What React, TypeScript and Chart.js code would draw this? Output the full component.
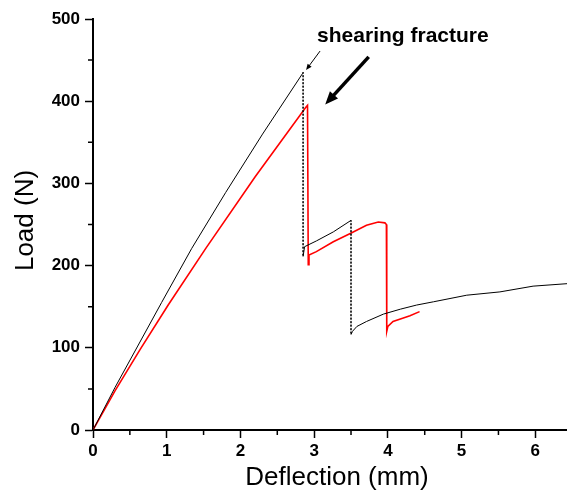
import React, { useEffect, useRef } from 'react';
import { Chart, registerables } from 'chart.js';
Chart.register(...registerables);

// Sample A (black, dotted drops)
const blackX = [0, 0.3, 0.6, 0.93, 1.34, 1.8, 2.3, 2.845, 2.85, 2.85, 2.87, 3.03, 3.26, 3.5, 3.5, 3.52, 3.58, 3.71, 3.94, 4.17, 4.39, 4.62, 5.07, 5.52, 5.97, 6.43];
const blackY = [0, 52, 101, 155, 221, 289, 360, 434, 435, 211, 223, 230, 241, 255, 116, 120, 126, 132, 141, 147, 152, 156, 164, 168, 175, 178];
// Sample B (red)
const redX = [0, 0.3, 0.64, 1.02, 1.53, 2.2, 2.89, 2.91, 2.92, 2.93, 3.03, 3.26, 3.49, 3.71, 3.87, 3.96, 3.98, 3.985, 4.0, 4.07, 4.2, 4.3, 4.43];
const redY = [0, 48, 98, 152, 221, 308, 393, 395, 201, 213, 217, 229, 239, 249, 253, 252, 250, 120, 126, 132, 136, 139, 144];

const xMin = 0;
const xMax = 6.43;
const yMin = 0;
const yMax = 500;
const xMinor = [0.5, 1.5, 2.5, 3.5, 4.5, 5.5];
const yMinor = [50, 150, 250, 350, 450];

const xTitle = 'Deflection (mm)';
const yTitle = 'Load (N)';
const noteText = 'shearing fracture';
const notePos = [3.04, 479];
const thinArrow = [[3.08, 461], [2.89, 438]];
const thickArrow = [[3.74, 454], [3.15, 396]];

const FONT = '"Liberation Sans", Arial, Helvetica, sans-serif';

function drawArrow(ctx: CanvasRenderingContext2D, x1: number, y1: number, x2: number, y2: number, lw: number, headLen: number, headW: number) {
  const dx = x2 - x1, dy = y2 - y1;
  const len = Math.hypot(dx, dy);
  const ux = dx / len, uy = dy / len;
  const bx = x2 - ux * headLen, by = y2 - uy * headLen;
  ctx.save();
  ctx.strokeStyle = '#000';
  ctx.fillStyle = '#000';
  ctx.lineWidth = lw;
  ctx.beginPath();
  ctx.moveTo(x1, y1);
  ctx.lineTo(bx + ux * 1, by + uy * 1);
  ctx.stroke();
  ctx.beginPath();
  ctx.moveTo(x2, y2);
  ctx.lineTo(bx - uy * headW / 2, by + ux * headW / 2);
  ctx.lineTo(bx + uy * headW / 2, by - ux * headW / 2);
  ctx.closePath();
  ctx.fill();
  ctx.restore();
}

const decorPlugin = {
  id: 'decor',
  afterDraw(chart: any) {
    const ctx: CanvasRenderingContext2D = chart.ctx;
    const xs = chart.scales.x;
    const ys = chart.scales.y;
    const area = chart.chartArea;
    ctx.save();
    // minor ticks
    ctx.strokeStyle = '#000';
    ctx.lineWidth = 1.5;
    ctx.beginPath();
    xMinor.forEach((v) => {
      const px = xs.getPixelForValue(v);
      ctx.moveTo(px, area.bottom);
      ctx.lineTo(px, area.bottom + 5);
    });
    yMinor.forEach((v) => {
      const py = ys.getPixelForValue(v);
      ctx.moveTo(area.left, py);
      ctx.lineTo(area.left - 5, py);
    });
    ctx.stroke();

    // axis titles
    ctx.fillStyle = '#000';
    ctx.font = `26px ${FONT}`;
    ctx.textAlign = 'center';
    ctx.textBaseline = 'alphabetic';
    ctx.fillText(xTitle, (area.left + area.right) / 2 + 7, 485);
    ctx.save();
    ctx.translate(33, (area.top + area.bottom) / 2 - 4);
    ctx.rotate(-Math.PI / 2);
    ctx.fillText(yTitle, 0, 0);
    ctx.restore();

    // annotation
    ctx.font = `bold 21px ${FONT}`;
    ctx.textAlign = 'left';
    ctx.textBaseline = 'middle';
    ctx.fillText(noteText, xs.getPixelForValue(notePos[0]), ys.getPixelForValue(notePos[1]));
    drawArrow(ctx, xs.getPixelForValue(thinArrow[0][0]), ys.getPixelForValue(thinArrow[0][1]), xs.getPixelForValue(thinArrow[1][0]), ys.getPixelForValue(thinArrow[1][1]), 1, 6, 5);
    drawArrow(ctx, xs.getPixelForValue(thickArrow[0][0]), ys.getPixelForValue(thickArrow[0][1]), xs.getPixelForValue(thickArrow[1][0]), ys.getPixelForValue(thickArrow[1][1]), 3.5, 13, 11);
    ctx.restore();
  },
};

export default function App() {
  const ref = useRef<HTMLCanvasElement | null>(null);
  useEffect(() => {
    if (!ref.current) return;
    const black = blackX.map((x, i) => ({ x, y: blackY[i] }));
    const red = redX.map((x, i) => ({ x, y: redY[i] }));
    const chart = new Chart(ref.current, {
      type: 'scatter',
      data: {
        datasets: [
          {
            label: 'black',
            data: black,
            showLine: true,
            borderColor: '#000',
            borderWidth: 1,
            pointRadius: 0,
            segment: {
              borderDash: (c: any) =>
                Math.abs(c.p0.parsed.x - c.p1.parsed.x) < 0.001 && Math.abs(c.p0.parsed.y - c.p1.parsed.y) > 50 ? [1.5, 2] : undefined,
            },
          },
          {
            label: 'red',
            data: red,
            showLine: true,
            borderColor: '#ff0000',
            borderWidth: 1.6,
            pointRadius: 0,
          },
        ],
      },
      options: {
        animation: false,
        responsive: false,
        layout: { padding: { top: 19, right: 0, left: 0, bottom: 0 } },
        plugins: { legend: { display: false }, tooltip: { enabled: false } },
        scales: {
          x: {
            type: 'linear',
            min: xMin,
            max: xMax,
            afterFit: (s: any) => { s.height = 63; },
            border: { display: true, color: '#000', width: 2 },
            grid: { drawOnChartArea: false, drawTicks: true, tickLength: 8, tickColor: '#000', tickWidth: 1.5 },
            ticks: { stepSize: 1, includeBounds: false, color: '#000', padding: 3, maxRotation: 0, font: { family: FONT, size: 17, weight: 'bold' } },
          },
          y: {
            type: 'linear',
            min: yMin,
            max: yMax,
            afterFit: (s: any) => { s.width = 93; },
            border: { display: true, color: '#000', width: 2 },
            grid: { drawOnChartArea: false, drawTicks: true, tickLength: 8, tickColor: '#000', tickWidth: 1.5 },
            ticks: { stepSize: 100, color: '#000', padding: 5, font: { family: FONT, size: 17, weight: 'bold' } },
          },
        },
      },
      plugins: [decorPlugin],
    } as any);
    return () => chart.destroy();
  }, []);
  return (
    <div style={{ position: 'fixed', left: 0, top: 0, width: 567, height: 493, background: '#fff' }}>
      <canvas ref={ref} width={567} height={493} style={{ display: 'block' }} />
    </div>
  );
}
